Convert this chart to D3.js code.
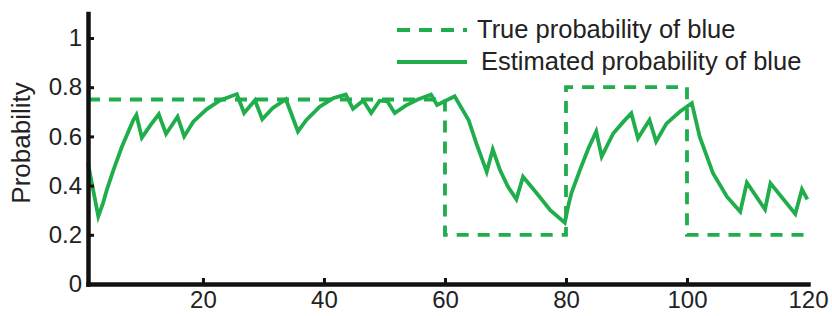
<!DOCTYPE html>
<html>
<head>
<meta charset="utf-8">
<script src="https://cdn.jsdelivr.net/npm/d3@7"></script>
<style>
  body { margin: 0; background: #fff; }
  svg { display: block; }
  text { font-family: "Liberation Sans", Arial, sans-serif; fill: #222; }
</style>
</head>
<body>
<svg id="chart" width="832" height="316"></svg>
<script>
// true probability of blue (step changes at trials 60, 80, 100)
var trueTrials = [1, 60, 60, 80, 80, 100, 100, 120];
var trueProb   = [0.75, 0.75, 0.2, 0.2, 0.8, 0.8, 0.2, 0.2];

// estimated probability of blue
var estTrials = [1, 2.7, 3.5, 4.1, 5.2, 6.6, 8.5, 9.0, 9.9, 11.3, 12.7, 13.9, 15.8, 16.9,
  18.4, 20.6, 22.8, 25.6, 26.8, 28.6, 29.8, 31.5, 33.7, 35.7, 37.1, 39.3, 41.5, 43.6,
  44.8, 46.5, 47.8, 49.2, 50.5, 51.7, 53.5, 55.5, 57.7, 58.7, 61.6, 63.9, 65.2, 66.9,
  67.9, 69.1, 70.4, 71.8, 72.9, 75.2, 77.4, 79.8, 80.4, 80.9, 82.3, 83.7, 85.0, 85.9, 87.8,
  89.5, 90.8, 91.9, 93.8, 94.9, 96.6, 98.8, 100.8, 102.1, 104.3, 106.6, 108.8, 109.9,
  112.9, 113.8, 117.9, 119.0, 119.9];
var estProb = [0.49, 0.275, 0.33, 0.382, 0.463, 0.558, 0.667, 0.687, 0.595, 0.645, 0.69, 0.61, 0.68, 0.60,
  0.66, 0.71, 0.746, 0.772, 0.695, 0.747, 0.67, 0.715, 0.751, 0.62, 0.667, 0.721, 0.755, 0.77,
  0.712, 0.746, 0.695, 0.745, 0.742, 0.695, 0.725, 0.75, 0.77, 0.728, 0.763, 0.667, 0.571, 0.456,
  0.547, 0.463, 0.396, 0.344, 0.436, 0.368, 0.30, 0.249, 0.32, 0.37, 0.463, 0.551, 0.62, 0.518, 0.612,
  0.66, 0.694, 0.592, 0.667, 0.579, 0.652, 0.70, 0.735, 0.599, 0.45, 0.355, 0.294, 0.412,
  0.303, 0.409, 0.285, 0.385, 0.344];

var xTicks = [20, 40, 60, 80, 100, 120];
var yTicks = [0, 0.2, 0.4, 0.6, 0.8, 1];
var yTickLabels = ["0", "0.2", "0.4", "0.6", "0.8", "1"];

var legendLabels = ["True probability of blue", "Estimated probability of blue"];

var green = "#20ad4b";

var svg = d3.select("#chart");

var x = d3.scaleLinear().domain([1, 120]).range([88, 808]);
var y = d3.scaleLinear().domain([0, 1.1]).range([284, 13.4]);

var trueData = trueTrials.map(function(t, i) { return [t, trueProb[i]]; });
var estData = estTrials.map(function(t, i) { return [t, estProb[i]]; });

var line = d3.line()
  .x(function(d) { return x(d[0]); })
  .y(function(d) { return y(d[1]); });

svg.append("path")
  .datum(trueData)
  .attr("d", line)
  .attr("fill", "none")
  .attr("stroke", green)
  .attr("stroke-width", 3.8)
  .attr("stroke-dasharray", "12,9");

svg.append("path")
  .datum(estData)
  .attr("d", line)
  .attr("fill", "none")
  .attr("stroke", green)
  .attr("stroke-width", 3.8)
  .attr("stroke-linejoin", "miter");

// axes, ticks pointing inward
var yAxis = d3.axisLeft(y)
  .tickValues(yTicks)
  .tickFormat(function(d, i) { return yTickLabels[i]; })
  .tickSizeInner(-6)
  .tickSizeOuter(0)
  .tickPadding(6);

var xAxis = d3.axisBottom(x)
  .tickValues(xTicks)
  .tickFormat(d3.format("d"))
  .tickSizeInner(-6)
  .tickSizeOuter(0)
  .tickPadding(7);

var gy = svg.append("g").attr("transform", "translate(88,0)").call(yAxis);
var gx = svg.append("g").attr("transform", "translate(0,284)").call(xAxis);

[gx, gy].forEach(function(g) {
  g.select(".domain")
    .attr("stroke", "#111")
    .attr("stroke-width", 4.5)
    .attr("stroke-linecap", "square");
  g.selectAll(".tick line")
    .attr("stroke", "#111")
    .attr("stroke-width", 3);
  g.selectAll(".tick text")
    .style("font-family", "'Liberation Sans', Arial, sans-serif")
    .style("font-size", "24px")
    .attr("fill", "#222");
});
// last x tick sits at the end of the axis, no mark there
gx.selectAll(".tick line").filter(function(d) { return d === 120; }).remove();

svg.append("text")
  .attr("transform", "translate(30,143) rotate(-90)")
  .attr("text-anchor", "middle")
  .style("font-size", "26px")
  .text("Probability");

// legend
var legend = svg.append("g");
legend.append("line")
  .attr("x1", 397).attr("x2", 467).attr("y1", 30).attr("y2", 30)
  .attr("stroke", green).attr("stroke-width", 3.8)
  .attr("stroke-dasharray", "13,9");
legend.append("text")
  .attr("x", 477).attr("y", 38)
  .style("font-size", "25.5px")
  .text(legendLabels[0]);
legend.append("line")
  .attr("x1", 397).attr("x2", 467).attr("y1", 62).attr("y2", 62)
  .attr("stroke", green).attr("stroke-width", 3.8);
legend.append("text")
  .attr("x", 481).attr("y", 70)
  .style("font-size", "25.5px")
  .text(legendLabels[1]);
</script>
</body>
</html>
